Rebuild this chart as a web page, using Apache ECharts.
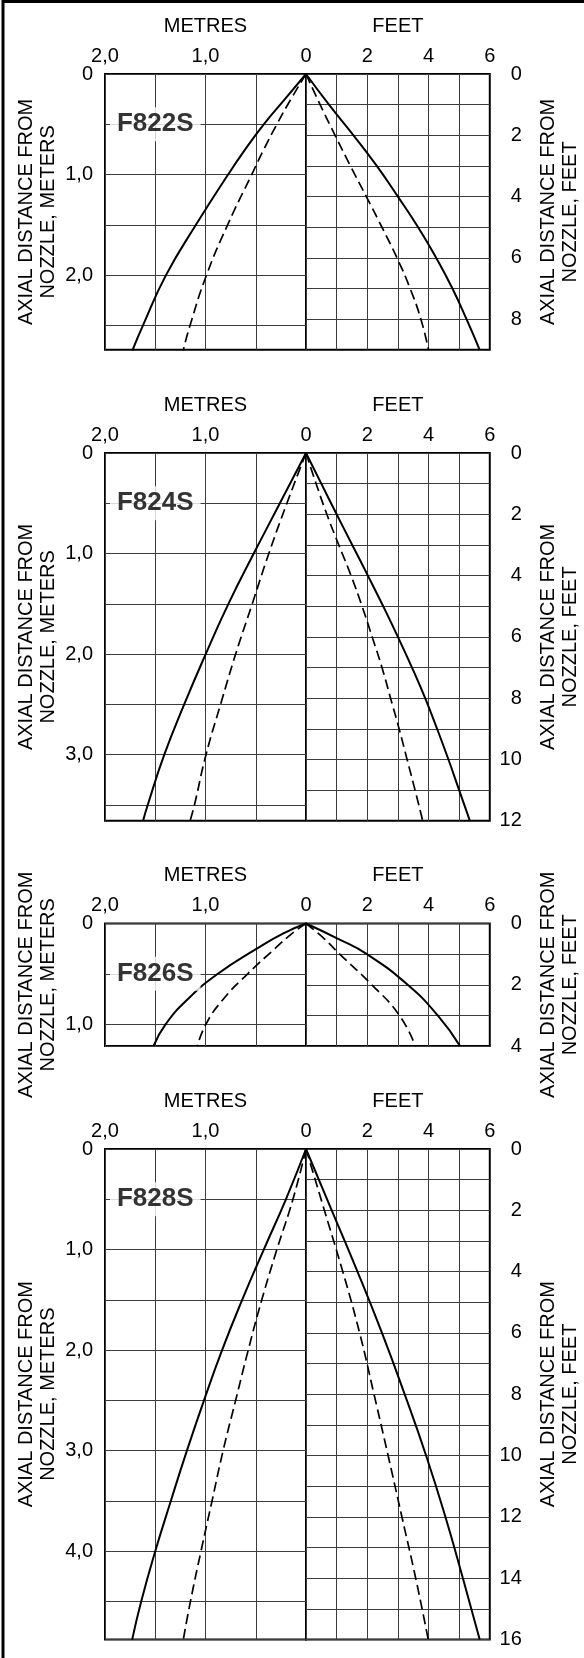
<!DOCTYPE html>
<html><head><meta charset="utf-8">
<script src="https://cdn.jsdelivr.net/npm/echarts@6.0.0/dist/echarts.min.js"></script>
<style>html,body{margin:0;padding:0;background:#fff}#c{width:584px;height:1658px}</style>
</head><body><div id="c"></div><script>
// ---------- DATA ----------
const panelNames = ['F822S', 'F824S', 'F826S', 'F828S'];
const panelDepthFt = [9, 12, 4, 16];

// Tick labels
const widthMetreValues = [0, 1, 2];
const widthMetreLabels = ['0', '1,0', '2,0'];
const widthFeetValues = [2, 4, 6];
const widthFeetLabels = ['2', '4', '6'];
const depthMetreValues = [0, 1, 2, 3, 4];
const depthMetreLabels = ['0', '1,0', '2,0', '3,0', '4,0'];
const depthFeetValues = [0, 2, 4, 6, 8, 10, 12, 14, 16];
const depthFeetLabels = ['0', '2', '4', '6', '8', '10', '12', '14', '16'];

// F822S  (left half in metres, right half in feet)
const f822DepthM  = [0, 0.25, 0.5, 0.75, 1.0, 1.5, 2.0, 2.5, 2.75];
const f822SolidM  = [0, 0.21, 0.42, 0.605, 0.775, 1.095, 1.393, 1.622, 1.728];
const f822DashM   = [0, 0.15, 0.29, 0.42, 0.54, 0.78, 0.99, 1.154, 1.222];
const f822DepthFt = [0, 1, 2, 3, 4, 5, 6, 7, 8, 9];
const f822SolidFt = [0, 0.75, 1.55, 2.31, 3.0, 3.66, 4.25, 4.78, 5.24, 5.67];
const f822DashFt  = [0, 0.46, 0.95, 1.45, 1.97, 2.48, 2.97, 3.4, 3.75, 4.0];

// F824S
const f824DepthM  = [0, 0.5, 1.0, 1.5, 2.0, 2.5, 3.0, 3.5, 3.66];
const f824SolidM  = [0, 0.26, 0.52, 0.772, 0.998, 1.212, 1.41, 1.575, 1.622];
const f824DashM   = [0, 0.19, 0.37, 0.535, 0.70, 0.85, 0.995, 1.11, 1.154];
const f824DepthFt = [0, 1, 2, 3, 4, 5, 6, 7, 8, 9, 10, 11, 12];
const f824SolidFt = [0, 0.5, 1.0, 1.51, 2.02, 2.52, 3.0, 3.46, 3.89, 4.28, 4.65, 5.0, 5.35];
const f824DashFt  = [0, 0.33, 0.68, 1.07, 1.47, 1.83, 2.16, 2.48, 2.76, 3.04, 3.3, 3.56, 3.81];

// F826S
const f826DepthM  = [0, 0.1, 0.25, 0.5, 0.75, 1.0, 1.22];
const f826SolidM  = [0, 0.23, 0.49, 0.877, 1.174, 1.396, 1.518];
const f826DashM   = [0, 0.14, 0.31, 0.58, 0.821, 0.995, 1.081];
const f826DepthFt = [0, 0.5, 1, 2, 3, 4];
const f826SolidFt = [0, 1.05, 1.99, 3.32, 4.30, 5.03];
const f826DashFt  = [0, 0.6, 1.1, 2.15, 3.05, 3.57];

// F828S
const f828DepthM  = [0, 0.5, 1.0, 1.5, 2.0, 2.5, 3.0, 3.5, 4.0, 4.5, 4.88];
const f828SolidM  = [0, 0.2, 0.42, 0.635, 0.835, 1.015, 1.185, 1.345, 1.5, 1.64, 1.73];
const f828DashM   = [0, 0.13, 0.29, 0.44, 0.575, 0.70, 0.825, 0.935, 1.045, 1.15, 1.221];
const f828DepthFt = [0, 2, 4, 6, 8, 10, 12, 14, 16];
const f828SolidFt = [0, 0.84, 1.68, 2.48, 3.22, 3.92, 4.55, 5.12, 5.67];
const f828DashFt  = [0, 0.6, 1.2, 1.75, 2.22, 2.68, 3.13, 3.58, 3.99];

const panelsM = [
  [f822DepthM, f822SolidM, f822DashM],
  [f824DepthM, f824SolidM, f824DashM],
  [f826DepthM, f826SolidM, f826DashM],
  [f828DepthM, f828SolidM, f828DashM]
];
const panelsFt = [
  [f822DepthFt, f822SolidFt, f822DashFt],
  [f824DepthFt, f824SolidFt, f824DashFt],
  [f826DepthFt, f826SolidFt, f826DashFt],
  [f828DepthFt, f828SolidFt, f828DashFt]
];
const labelAnchorM = [1.5, 0.5];

// ---------- LAYOUT / STYLE ----------
const FONT = '"Liberation Sans", Arial, Helvetica, sans-serif';
const M_PER_FT = 0.3048;
const PX_PER_FT = 30.65;
const tops = [74, 453, 923.5, 1149];
const LEFT = 105, MID = 306, RIGHT = 489.8;
const GRIDLINE = '#3c3c3c';

function labelFrom(values, labels) {
  return function (v) {
    for (let k = 0; k < values.length; k++) {
      if (Math.abs(values[k] - v) < 1e-6) return labels[k];
    }
    return '';
  };
}
function pairs(xs, ys) { return ys.map((y, k) => [xs[k], y]); }

const option = {
  animation: false,
  backgroundColor: '#fff',
  textStyle: { fontFamily: FONT, color: '#000' },
  grid: [], xAxis: [], yAxis: [], series: [],
  graphic: [{
    type: 'polyline',
    shape: { points: [[3, 1658], [3, 1.6], [584, 1.6]] },
    style: { stroke: '#000', lineWidth: 3, fill: null },
    silent: true
  }]
};

const baseText = { fontFamily: FONT, fontSize: 20, color: '#000' };

panelNames.forEach((name, i) => {
  const top = tops[i];
  const h = panelDepthFt[i] * PX_PER_FT;
  const maxM = panelDepthFt[i] * M_PER_FT;
  const gl = 2 * i, gr = 2 * i + 1;
  const gridCommon = { top: top, height: h, show: true, borderColor: '#000', borderWidth: 2,
    backgroundColor: 'transparent', containLabel: false, outerBoundsMode: 'none' };
  option.grid.push(Object.assign({ left: LEFT, width: MID - LEFT }, gridCommon));
  option.grid.push(Object.assign({ left: MID, width: RIGHT - MID }, gridCommon));

  const split = { show: true, lineStyle: { color: GRIDLINE, width: 1 } };
  option.xAxis.push({
    gridIndex: gl, type: 'value', position: 'top', inverse: true,
    min: 0, max: 2, interval: 0.5,
    name: 'METRES', nameLocation: 'middle', nameGap: 38, nameMoveOverlap: false,
    nameTextStyle: baseText,
    axisLine: { show: false }, axisTick: { show: false },
    axisLabel: Object.assign({ margin: 8, showMinLabel: true, showMaxLabel: true,
      formatter: labelFrom(widthMetreValues, widthMetreLabels) }, baseText),
    splitLine: split
  });
  option.xAxis.push({
    gridIndex: gr, type: 'value', position: 'top',
    min: 0, max: 6, interval: 1,
    name: 'FEET', nameLocation: 'middle', nameGap: 38, nameMoveOverlap: false,
    nameTextStyle: baseText,
    axisLine: { show: false }, axisTick: { show: false },
    axisLabel: Object.assign({ margin: 8, showMinLabel: true, showMaxLabel: true,
      formatter: labelFrom(widthFeetValues, widthFeetLabels) }, baseText),
    splitLine: split
  });
  option.yAxis.push({
    gridIndex: gl, type: 'value', position: 'left', inverse: true,
    min: 0, max: maxM, interval: 0.5,
    name: 'AXIAL DISTANCE FROM\nNOZZLE, METERS', nameLocation: 'middle', nameGap: 46,
    nameRotate: 90, nameMoveOverlap: false,
    nameTextStyle: Object.assign({ lineHeight: 22 }, baseText),
    axisLine: { show: false }, axisTick: { show: false },
    axisLabel: Object.assign({ margin: 12, showMinLabel: true, showMaxLabel: true,
      formatter: labelFrom(depthMetreValues, depthMetreLabels) }, baseText),
    splitLine: split
  });
  option.yAxis.push({
    gridIndex: gr, type: 'value', position: 'right', inverse: true,
    min: 0, max: panelDepthFt[i], interval: 1,
    name: 'AXIAL DISTANCE FROM\nNOZZLE, FEET', nameLocation: 'middle', nameGap: 48,
    nameRotate: 90, nameMoveOverlap: false,
    nameTextStyle: Object.assign({ lineHeight: 22 }, baseText),
    axisLine: { show: false }, axisTick: { show: false },
    axisLabel: Object.assign({ margin: 32, align: 'right', showMinLabel: true, showMaxLabel: true,
      formatter: labelFrom(depthFeetValues, depthFeetLabels) }, baseText),
    splitLine: split
  });

  const [dM, sM, qM] = panelsM[i];
  const [dF, sF, qF] = panelsFt[i];
  const lineBase = { type: 'line', showSymbol: false, symbol: 'none', smooth: 0.5,
    silent: true, clip: true, z: 3 };
  const solid = { color: '#000', width: 2, type: 'solid' };
  const dashed = { color: '#000', width: 1.7, type: [10, 5] };
  option.series.push(Object.assign({ xAxisIndex: gl, yAxisIndex: gl, data: pairs(sM, dM), lineStyle: solid }, lineBase));
  option.series.push(Object.assign({ xAxisIndex: gl, yAxisIndex: gl, data: pairs(qM, dM), lineStyle: dashed }, lineBase));
  option.series.push(Object.assign({ xAxisIndex: gr, yAxisIndex: gr, data: pairs(sF, dF), lineStyle: solid }, lineBase));
  option.series.push(Object.assign({ xAxisIndex: gr, yAxisIndex: gr, data: pairs(qF, dF), lineStyle: dashed }, lineBase));

  option.series.push({
    type: 'scatter', xAxisIndex: gl, yAxisIndex: gl, silent: true, z: 5,
    symbolSize: 1, itemStyle: { color: 'rgba(0,0,0,0)' },
    data: [{ value: labelAnchorM.slice(), name: name }],
    label: {
      show: true, position: 'inside', formatter: name,
      fontFamily: FONT, fontSize: 26, fontWeight: 'bold', color: '#000',
      backgroundColor: '#fff', padding: [4, 7]
    }
  });
});

const chart = echarts.init(document.getElementById('c'), null, { renderer: 'canvas', width: 584, height: 1658 });
chart.setOption(option);
</script></body></html>
